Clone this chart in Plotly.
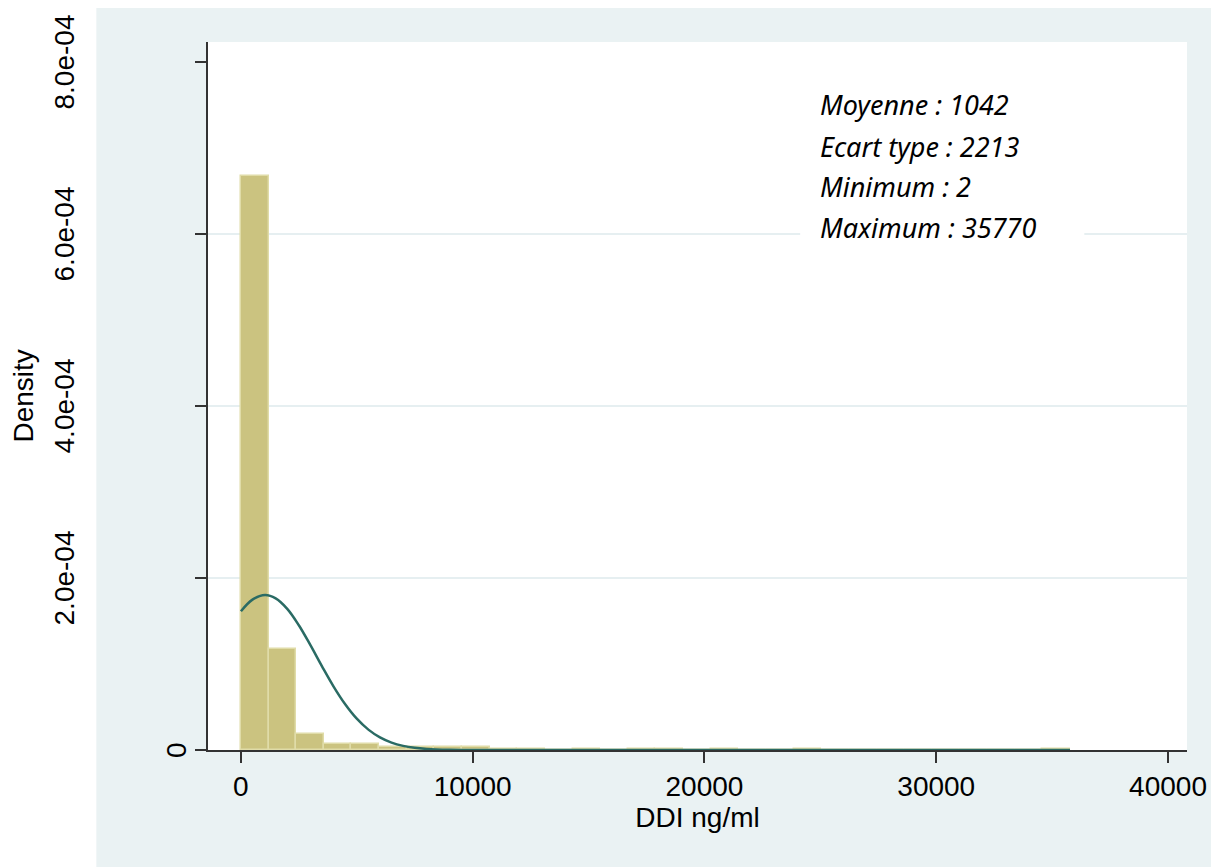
import plotly.graph_objects as go

# ---------------- data ----------------
bin_start = 2.0
bin_width = 1192.27
bin_density = [6.67e-4, 1.18e-4, 1.86e-5, 7.4e-6, 7.4e-6, 3.4e-6, 3.0e-6, 3.0e-6,
               3.0e-6, 1.5e-6, 1.5e-6, 0.0, 1.5e-6, 0.0, 1.5e-6, 1.5e-6, 0.0,
               1.5e-6, 0.0, 0.0, 1.5e-6, 0.0, 0.0, 0.0, 0.0, 0.0, 0.0, 0.0, 0.0,
               1.5e-6]

curve_x = [2, 500, 1042, 1500, 2000, 2500, 3000, 3500, 4000, 4500, 5000, 5500,
           6000, 6500, 7000, 7500, 8000, 9000, 10000, 15000, 20000, 25000,
           30000, 35770]
curve_y = [1.614e-4, 1.749e-4, 1.803e-4, 1.764e-4, 1.642e-4, 1.451e-4, 1.219e-4,
           9.73e-5, 7.38e-5, 5.32e-5, 3.64e-5, 2.37e-5, 1.466e-5, 8.61e-6,
           4.81e-6, 2.55e-6, 1.29e-6, 2.8e-7, 5e-8, 0, 0, 0, 0, 0]

x_ticks = [0, 10000, 20000, 30000, 40000]
x_tick_labels = ["0", "10000", "20000", "30000", "40000"]
y_ticks = [0, 2e-4, 4e-4, 6e-4, 8e-4]
y_tick_labels = ["0", "2.0e-04", "4.0e-04", "6.0e-04", "8.0e-04"]
grid_values = [2e-4, 4e-4, 6e-4]

stats_lines = ["Moyenne : 1042", "Ecart type : 2213", "Minimum : 2", "Maximum : 35770"]
x_title = "DDI ng/ml"
y_title = "Density"

# ---------------- layout geometry ----------------
# the page body adds an 8px offset; figure is sized so that it ends at the window edge
OFF = 8
W, H = 1219 - OFF, 867 - OFF
L, R, T, B = 208 - OFF, 29, 42 - OFF, 117
PW, PH = W - L - R, H - T - B
X0, Y1 = L + OFF, H - B + OFF   # page coords of plot left / bottom


def px_x(p):
    return (p - X0) / PW


def px_y(p):
    return (Y1 - p) / PH


bin_centers = [bin_start + (i + 0.5) * bin_width for i in range(len(bin_density))]

fig = go.Figure()
fig.add_trace(go.Bar(
    x=bin_centers, y=bin_density, width=bin_width,
    marker=dict(color="#cbc380", line=dict(color="#e0dca8", width=1.5)),
    showlegend=False, hoverinfo="skip"))
fig.add_trace(go.Scatter(
    x=curve_x, y=curve_y, mode="lines",
    line=dict(color="#2a6b64", width=2.5, shape="spline"),
    showlegend=False, hoverinfo="skip"))

shapes = []
# outer light region
shapes.append(dict(type="rect", xref="paper", yref="paper",
                   x0=px_x(96), x1=px_x(1230), y0=px_y(880), y1=px_y(7),
                   fillcolor="#eaf2f3", line=dict(width=0), layer="below"))
# white plot region
shapes.append(dict(type="rect", xref="paper", yref="paper",
                   x0=0, x1=1, y0=0, y1=1,
                   fillcolor="white", line=dict(width=0), layer="below"))
for g in grid_values:
    shapes.append(dict(type="line", xref="paper", yref="y", x0=0, x1=1, y0=g, y1=g,
                       line=dict(color="#e6eff1", width=2), layer="below"))
# white box behind the statistics text
shapes.append(dict(type="rect", xref="paper", yref="paper",
                   x0=px_x(802), x1=px_x(1087), y0=px_y(252), y1=px_y(78),
                   fillcolor="white", line=dict(width=0), layer="below"))

annotations = []
for v, lab in zip(y_ticks, y_tick_labels):
    annotations.append(dict(
        x=px_x(176 if lab == "0" else 64), xref="paper", y=v, yref="y",
        text=lab, textangle=-90, showarrow=False, xanchor="center", yanchor="middle",
        font=dict(family="Liberation Sans", size=28, color="black")))
annotations.append(dict(
    x=px_x(22), xref="paper", y=0.5, yref="paper", text=y_title, textangle=-90,
    showarrow=False, xanchor="center", yanchor="middle",
    font=dict(family="Liberation Sans", size=28, color="black")))
for i, line in enumerate(stats_lines):
    annotations.append(dict(
        x=px_x(820), xref="paper", y=px_y(105 + i * 41), yref="paper",
        text="<i>" + line + "</i>", showarrow=False, xanchor="left", yanchor="middle",
        font=dict(family="Noto Sans", size=27, color="black")))

fig.update_layout(
    width=W, height=H,
    margin=dict(l=L, r=R, t=T, b=B),
    paper_bgcolor="white", plot_bgcolor="rgba(0,0,0,0)",
    bargap=0, shapes=shapes, annotations=annotations,
    xaxis=dict(range=[-1419, 40817], tickvals=x_ticks, ticktext=x_tick_labels,
               ticks="outside", ticklen=11,
               tickwidth=1.5, tickcolor="#333", showline=True, linecolor="#333",
               linewidth=1.5, showgrid=False, zeroline=False,
               tickfont=dict(family="Liberation Sans", size=28, color="black"),
               title=dict(text=x_title, standoff=0,
                          font=dict(family="Liberation Sans", size=28, color="black"))),
    yaxis=dict(range=[0, 8.233e-4], tickvals=y_ticks, showticklabels=False,
               ticks="outside", ticklen=11, tickwidth=1.5, tickcolor="#333",
               showline=True, linecolor="#333", linewidth=1.5, showgrid=False,
               zeroline=False),
)

fig.write_html("out.html")
